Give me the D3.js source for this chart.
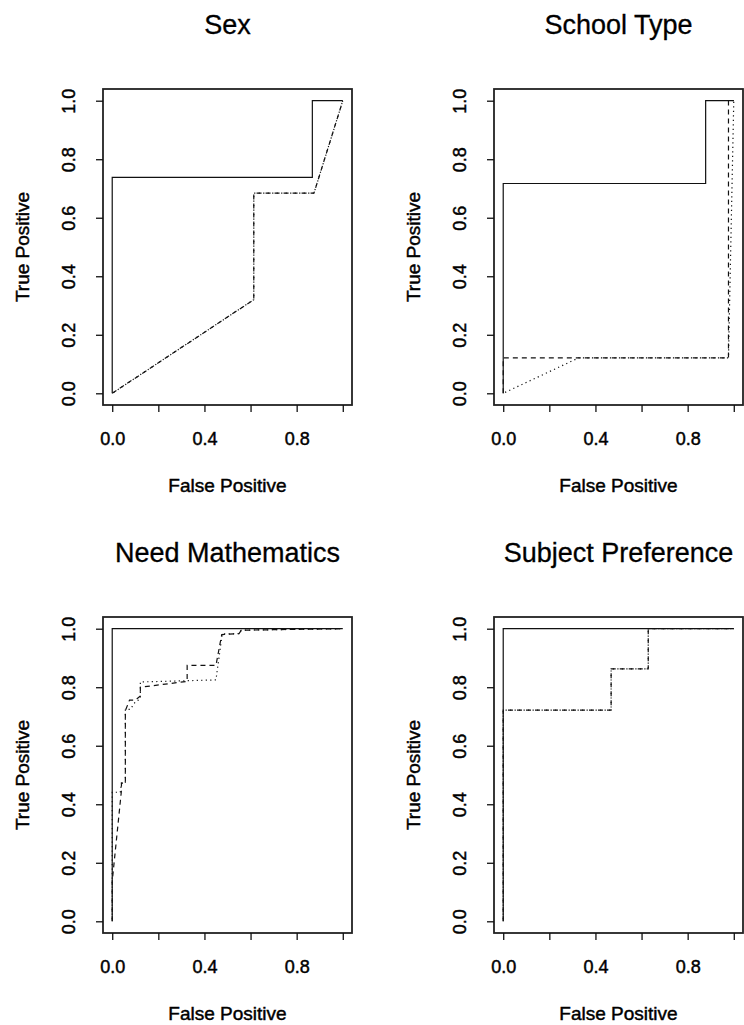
<!DOCTYPE html>
<html>
<head>
<meta charset="utf-8">
<script src="https://cdn.jsdelivr.net/npm/d3@7"></script>
<style>
  body { margin: 0; background: #fff; }
  text { font-family: "Liberation Sans", Arial, Helvetica, sans-serif; fill: #000; }
  .heavy { stroke: #000; stroke-width: 0.45px; }
</style>
</head>
<body>
<svg id="chart" width="744" height="1025"></svg>
<script>
// panel titles
var titles = ["Sex", "School Type", "Need Mathematics", "Subject Preference"];

// tick values / labels
var tickValues = [0, 0.2, 0.4, 0.6, 0.8, 1.0];
var xTickLabels = ["0.0", "", "0.4", "", "0.8", ""];
var yTickLabels = ["0.0", "0.2", "0.4", "0.6", "0.8", "1.0"];

// ROC curves, [false positive, true positive]
var sexSolid  = [[0, 0], [0, 0.738], [0.868, 0.738], [0.868, 1], [1, 1]];
var sexDashed = [[0, 0], [0.614, 0.32], [0.614, 0.684], [0.875, 0.684], [1, 1]];
var sexDotted = [[0, 0], [0.614, 0.32], [0.614, 0.684], [0.875, 0.684], [1, 1]];

var schoolSolid  = [[0, 0], [0, 0.717], [0.878, 0.717], [0.878, 1], [1, 1]];
var schoolDashed = [[0, 0], [0, 0.121], [0.977, 0.121], [0.977, 1], [1, 1]];
var schoolDotted = [[0, 0], [0.327, 0.121], [0.977, 0.121], [1, 1]];

var mathSolid  = [[0, 0], [0, 1], [1, 1]];
var mathDashed = [[0, 0], [0, 0.137], [0.04, 0.447], [0.04, 0.472], [0.057, 0.472], [0.057, 0.72],
                  [0.075, 0.756], [0.1, 0.756], [0.122, 0.77], [0.122, 0.80], [0.325, 0.82],
                  [0.325, 0.875], [0.45, 0.875], [0.475, 0.98], [0.55, 0.983], [0.56, 0.995], [1, 1]];
var mathDotted = [[0, 0], [0, 0.441], [0.035, 0.441], [0.04, 0.472], [0.057, 0.472], [0.057, 0.724],
                  [0.078, 0.724], [0.1, 0.75], [0.122, 0.76], [0.122, 0.818], [0.45, 0.825],
                  [0.477, 0.982], [0.55, 0.983], [0.56, 0.995], [1, 1]];

var prefSolid  = [[0, 0], [0, 1], [1, 1]];
var prefDashed = [[0, 0], [0, 0.722], [0.468, 0.722], [0.468, 0.863], [0.629, 0.863], [0.629, 1], [1, 1]];
var prefDotted = [[0, 0], [0, 0.722], [0.468, 0.722], [0.468, 0.863], [0.629, 0.863], [0.629, 1], [1, 1]];

var panels = [
  { title: titles[0], left: 103, top: 89,  lines: [sexSolid, sexDashed, sexDotted] },
  { title: titles[1], left: 494, top: 89,  lines: [schoolSolid, schoolDashed, schoolDotted] },
  { title: titles[2], left: 103, top: 617, lines: [mathSolid, mathDashed, mathDotted] },
  { title: titles[3], left: 494, top: 617, lines: [prefSolid, prefDashed, prefDotted] }
];

// solid, dashed, dotted (dots offset so they fall in the dash gaps)
var dashes = ["none", "5,4", "1.2,3.3"];
var offsets = [0, 0, -6.6];

var boxW = 249, boxH = 316,
    padX = boxW * 0.04 / 1.08, padY = boxH * 0.04 / 1.08;

var svg = d3.select("#chart");

panels.forEach(function (p) {
  var g = svg.append("g").attr("transform", "translate(" + p.left + "," + p.top + ")");

  var x = d3.scaleLinear().domain([0, 1]).range([padX, boxW - padX]);
  var y = d3.scaleLinear().domain([0, 1]).range([boxH - padY, padY]);

  var line = d3.line().x(function (d) { return x(d[0]); }).y(function (d) { return y(d[1]); });

  g.selectAll(".roc")
      .data(p.lines)
    .enter().append("path")
      .attr("class", "roc")
      .attr("d", line)
      .attr("fill", "none")
      .attr("stroke", "#111")
      .attr("stroke-width", 1.2)
      .attr("stroke-dasharray", function (d, i) { return dashes[i]; })
      .attr("stroke-dashoffset", function (d, i) { return offsets[i]; });

  // frame
  g.append("rect")
      .attr("width", boxW)
      .attr("height", boxH)
      .attr("fill", "none")
      .attr("stroke", "#222")
      .attr("stroke-width", 1.8);

  var xAxis = g.append("g")
      .attr("transform", "translate(0," + boxH + ")")
      .call(d3.axisBottom(x).tickValues(tickValues).tickSize(7).tickPadding(20)
        .tickFormat(function (d, i) { return xTickLabels[i]; }));

  var yAxis = g.append("g")
      .call(d3.axisLeft(y).tickValues(tickValues).tickSize(7).tickPadding(0)
        .tickFormat(function (d, i) { return yTickLabels[i]; }));

  [xAxis, yAxis].forEach(function (a) {
    a.select(".domain").remove();
    a.selectAll(".tick line").attr("stroke", "#111").attr("stroke-width", 1.3);
    a.selectAll("text").attr("class", "heavy").style("font-size", "18px").attr("fill", "#000");
  });

  yAxis.selectAll(".tick text")
      .attr("x", null).attr("dy", null)
      .attr("text-anchor", "middle")
      .attr("transform", "translate(-28,0) rotate(-90)");

  g.append("text")
      .attr("x", boxW / 2)
      .attr("y", -55)
      .attr("text-anchor", "middle")
      .style("font-size", "27px")
      .style("stroke", "#000")
      .style("stroke-width", "0.3px")
      .text(p.title);

  g.append("text")
      .attr("class", "heavy")
      .attr("x", boxW / 2)
      .attr("y", boxH + 87)
      .attr("text-anchor", "middle")
      .style("font-size", "19px")
      .text("False Positive");

  g.append("text")
      .attr("class", "heavy")
      .attr("transform", "translate(-74," + (boxH / 2) + ") rotate(-90)")
      .attr("text-anchor", "middle")
      .style("font-size", "19px")
      .text("True Positive");
});
</script>
</body>
</html>
